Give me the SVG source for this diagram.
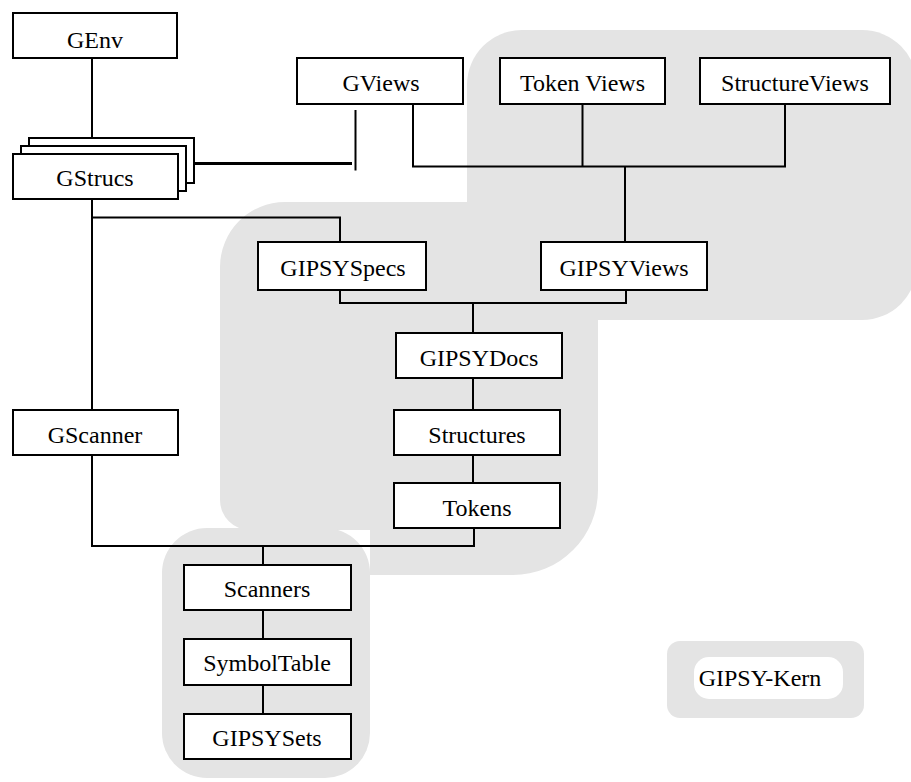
<svg xmlns="http://www.w3.org/2000/svg" width="911" height="782" viewBox="0 0 911 782">
<style>
.bg{fill:#e4e4e4;stroke:none}
.box{fill:#fff;stroke:#000;stroke-width:2}
.t{font-family:"Liberation Serif","Times New Roman",serif;font-size:24px;fill:#000;text-anchor:middle}
.c{fill:none;stroke:#000;stroke-width:2}
.thick{fill:none;stroke:#000;stroke-width:3}
</style>
<rect width="911" height="782" fill="#fff"/>
<g id="regions">
<rect class="bg" x="467" y="30" width="450" height="290" rx="55"/>
<path class="bg" d="M285,202 L598,202 L598,490 A85,85 0 0 1 513,575 L370,575 L370,530 L250,530 A30,30 0 0 1 220,500 L220,267 A65,65 0 0 1 285,202 Z"/>
<rect class="bg" x="162" y="528" width="208" height="250" rx="45"/>
</g>
<g id="connectors">
<path class="c" d="M92,58 V138"/>
<path class="thick" d="M194,163.5 H352"/>
<path class="c" d="M355.5,110 V170.5"/>
<path class="c" d="M413,104 V166.5 H785 V104 M582.5,104 V166.5 M625,166.5 V242"/>
<path class="c" d="M92,199 V410 M92,217.5 H340 V242"/>
<path class="c" d="M340,290 V303 H626 V290 M473,303 V333"/>
<path class="c" d="M473,378 V410 M473,455 V483"/>
<path class="c" d="M92,455 V546 H474 V528 M263,546 V565"/>
<path class="c" d="M263,610 V639 M263,685 V714"/>
</g>
<g id="GEnv"><rect class="box" x="13" y="13" width="164" height="45"/><text class="t" x="95" y="48">GEnv</text></g>
<g id="GViews"><rect class="box" x="297" y="58" width="166" height="46"/><text class="t" x="381" y="91">GViews</text></g>
<g id="TokenViews"><rect class="box" x="500" y="58" width="165" height="46"/><text class="t" x="582.5" y="91">Token Views</text></g>
<g id="StructureViews"><rect class="box" x="700" y="58" width="190" height="46"/><text class="t" x="795" y="91">StructureViews</text></g>
<g id="GStrucs">
<rect class="box" x="29" y="138" width="165" height="45"/>
<rect class="box" x="21" y="146" width="165" height="45"/>
<rect class="box" x="13" y="154" width="165" height="45"/>
<text class="t" x="95" y="186">GStrucs</text>
</g>
<g id="GIPSYSpecs"><rect class="box" x="258" y="242" width="168" height="48"/><text class="t" x="343" y="276">GIPSYSpecs</text></g>
<g id="GIPSYViews"><rect class="box" x="541" y="242" width="166" height="48"/><text class="t" x="624" y="276">GIPSYViews</text></g>
<g id="GIPSYDocs"><rect class="box" x="396" y="333" width="166" height="45"/><text class="t" x="479" y="366">GIPSYDocs</text></g>
<g id="GScanner"><rect class="box" x="13" y="410" width="165" height="45"/><text class="t" x="95" y="443">GScanner</text></g>
<g id="Structures"><rect class="box" x="394" y="410" width="166" height="45"/><text class="t" x="477" y="443">Structures</text></g>
<g id="Tokens"><rect class="box" x="394" y="483" width="166" height="45"/><text class="t" x="477" y="516">Tokens</text></g>
<g id="Scanners"><rect class="box" x="184" y="565" width="167" height="45"/><text class="t" x="267" y="597">Scanners</text></g>
<g id="SymbolTable"><rect class="box" x="184" y="639" width="167" height="46"/><text class="t" x="267" y="671">SymbolTable</text></g>
<g id="GIPSYSets"><rect class="box" x="184" y="714" width="167" height="45"/><text class="t" x="267" y="746">GIPSYSets</text></g>
<g id="legend">
<rect class="bg" x="667" y="641" width="197" height="77" rx="13"/>
<rect x="694" y="657" width="149" height="42" rx="15" fill="#fff"/>
<text class="t" x="760" y="686">GIPSY-Kern</text>
</g>
</svg>
